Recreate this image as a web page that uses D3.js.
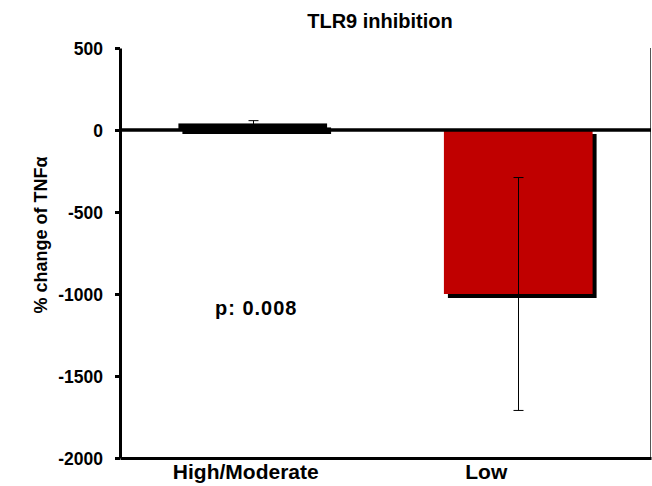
<!DOCTYPE html>
<html>
<head>
<meta charset="utf-8">
<script src="https://cdn.jsdelivr.net/npm/d3@7"></script>
<style>
  body { margin: 0; background: #fff; }
  text { font-family: "Liberation Sans", Arial, sans-serif; font-weight: bold; fill: #000; }
</style>
</head>
<body>
<div id="chart"></div>
<script>
var categories = ['High/Moderate', 'Low'];
var means = [40, -1000];
var errors = [17, 710];
var barColors = ['#000000', '#c00000'];
var yTicks = [500, 0, -500, -1000, -1500, -2000];

var width = 652, height = 486;
var margin = { top: 48, right: 1, bottom: 28, left: 120 };
// category labels sit a little left of the bar centres in the original
var labelShift = [-7, -32];

var svg = d3.select('#chart').append('svg')
  .attr('width', width)
  .attr('height', height);

var x = d3.scaleBand()
  .domain(categories)
  .range([margin.left, width - margin.right])
  .paddingInner(0.44)
  .paddingOuter(0.22);

var y = d3.scaleLinear()
  .domain([-2000, 500])
  .range([height - margin.bottom, margin.top]);

// title
svg.append('text')
  .attr('x', 380)
  .attr('y', 28)
  .attr('text-anchor', 'middle')
  .style('font-size', '20px')
  .text('TLR9 inhibition');

// right border
svg.append('line')
  .attr('x1', width - margin.right - 0.5).attr('x2', width - margin.right - 0.5)
  .attr('y1', margin.top).attr('y2', y(-2000))
  .attr('stroke', '#555').attr('stroke-width', 1);

// bar shadows
svg.selectAll('rect.shadow')
  .data(means)
  .enter()
  .append('rect')
    .attr('class', 'shadow')
    .attr('x', function (d, i) { return x(categories[i]) + 4; })
    .attr('y', function (d) { return Math.min(y(d), y(0)) + 4; })
    .attr('width', x.bandwidth())
    .attr('height', function (d) { return Math.abs(y(d) - y(0)); })
    .attr('fill', '#000');

// bars
svg.selectAll('rect.bar')
  .data(means)
  .enter()
  .append('rect')
    .attr('class', 'bar')
    .attr('x', function (d, i) { return x(categories[i]); })
    .attr('y', function (d) { return Math.min(y(d), y(0)); })
    .attr('width', x.bandwidth())
    .attr('height', function (d) { return Math.abs(y(d) - y(0)); })
    .attr('fill', function (d, i) { return barColors[i]; });

// error bars
var eb = svg.append('g').attr('stroke', '#000').attr('stroke-width', 1);
means.forEach(function (m, i) {
  var cx = Math.round(x(categories[i]) + x.bandwidth() / 2) + 0.5;
  var lo = m - errors[i], hi = m + errors[i];
  eb.append('line').attr('x1', cx).attr('x2', cx).attr('y1', y(lo)).attr('y2', y(hi));
  eb.append('line').attr('x1', cx - 5).attr('x2', cx + 5).attr('y1', y(hi)).attr('y2', y(hi));
  eb.append('line').attr('x1', cx - 5).attr('x2', cx + 5).attr('y1', y(lo)).attr('y2', y(lo));
});

// zero line
svg.append('line')
  .attr('x1', margin.left).attr('x2', width - margin.right)
  .attr('y1', y(0)).attr('y2', y(0))
  .attr('stroke', '#000').attr('stroke-width', 3.5);

// y axis
var yAxis = svg.append('g')
  .attr('transform', 'translate(' + margin.left + ',0)')
  .call(d3.axisLeft(y)
    .tickValues(yTicks)
    .tickFormat(function (d) { return String(d); })
    .tickSize(5).tickSizeOuter(0).tickPadding(12));
yAxis.select('.domain').attr('stroke-width', 3);
yAxis.selectAll('.tick line').attr('stroke-width', 3);
yAxis.selectAll('.tick text').style('font-size', '17.5px').attr('dy', '0.35em');

// x axis
var xAxis = svg.append('g')
  .attr('transform', 'translate(0,' + y(-2000) + ')')
  .call(d3.axisBottom(x).tickSize(0).tickPadding(6));
xAxis.select('.domain').attr('stroke-width', 3);
xAxis.selectAll('.tick text')
  .style('font-size', '21px')
  .attr('dx', function (d, i) { return labelShift[i]; });

// y label
svg.append('text')
  .attr('transform', 'translate(47,235) rotate(-90)')
  .attr('text-anchor', 'middle')
  .style('font-size', '18px')
  .text('% change of TNFα');

// p value
svg.append('text')
  .attr('x', 215)
  .attr('y', 315)
  .style('font-size', '20px')
  .style('letter-spacing', '1px')
  .text('p: 0.008');
</script>
</body>
</html>
